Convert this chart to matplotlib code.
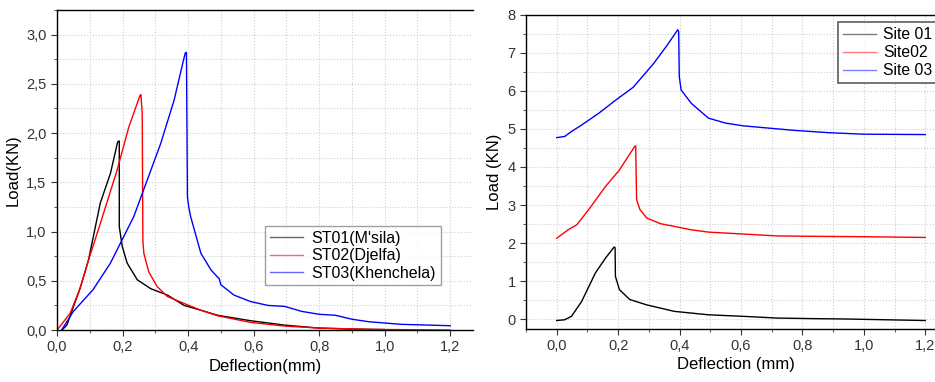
import matplotlib
matplotlib.use("Agg")
from matplotlib import pyplot as plt
from matplotlib.ticker import MultipleLocator, FuncFormatter

plt.rcParams['font.family'] = ['Liberation Sans', 'DejaVu Sans']

# left panel: load vs deflection per station
st01_x = [0.015, 0.03, 0.045, 0.07, 0.096, 0.132, 0.163, 0.185, 0.19, 0.19, 0.199, 0.214,
          0.245, 0.286, 0.337, 0.388, 0.44, 0.49, 0.59, 0.695, 0.8, 0.9, 1.0]
st01_y = [0.0, 0.05, 0.19, 0.42, 0.71, 1.29, 1.59, 1.91, 1.92, 1.05, 0.85, 0.68,
          0.51, 0.42, 0.355, 0.25, 0.2, 0.15, 0.095, 0.05, 0.02, 0.01, 0.005]

st02_x = [0.0, 0.04, 0.07, 0.096, 0.132, 0.183, 0.219, 0.253, 0.256, 0.26, 0.262, 0.265,
          0.28, 0.306, 0.337, 0.388, 0.44, 0.49, 0.59, 0.695, 0.8, 0.95, 1.1, 1.2]
st02_y = [0.0, 0.17, 0.42, 0.71, 1.08, 1.62, 2.06, 2.38, 2.39, 2.2, 0.91, 0.78,
          0.59, 0.44, 0.34, 0.27, 0.2, 0.145, 0.078, 0.04, 0.02, 0.007, 0.003, 0.0]

st03_x = [0.014, 0.05, 0.11, 0.163, 0.234, 0.275, 0.316, 0.357, 0.391, 0.395, 0.398, 0.402,
          0.408, 0.439, 0.47, 0.495, 0.5, 0.54, 0.59, 0.644, 0.695, 0.746, 0.8, 0.85,
          0.9, 0.95, 1.05, 1.2]
st03_y = [0.0, 0.19, 0.41, 0.68, 1.15, 1.52, 1.89, 2.33, 2.81, 2.82, 1.35, 1.25,
          1.15, 0.78, 0.61, 0.52, 0.46, 0.355, 0.29, 0.25, 0.24, 0.19, 0.16, 0.15,
          0.11, 0.085, 0.058, 0.044]

# right panel: shifted curves per site
site01_x = [0.0, 0.026, 0.048, 0.081, 0.126, 0.159, 0.187, 0.19, 0.191, 0.204, 0.238,
            0.293, 0.383, 0.494, 0.606, 0.717, 0.83, 0.94, 1.2]
site01_y = [-0.03, -0.01, 0.08, 0.47, 1.22, 1.61, 1.9, 1.88, 1.13, 0.78, 0.52,
            0.38, 0.21, 0.12, 0.08, 0.035, 0.02, 0.01, -0.03]

site02_x = [0.0, 0.037, 0.065, 0.104, 0.159, 0.204, 0.254, 0.257, 0.26, 0.271, 0.293,
            0.338, 0.383, 0.438, 0.494, 0.606, 0.717, 0.83, 0.996, 1.2]
site02_y = [2.13, 2.35, 2.48, 2.88, 3.49, 3.92, 4.54, 4.55, 3.14, 2.88, 2.66,
            2.51, 2.44, 2.35, 2.29, 2.24, 2.19, 2.18, 2.17, 2.15]

site03_x = [0.0, 0.026, 0.048, 0.081, 0.137, 0.193, 0.249, 0.316, 0.36, 0.394, 0.397,
            0.399, 0.405, 0.438, 0.494, 0.55, 0.606, 0.661, 0.773, 0.884, 0.996, 1.2]
site03_y = [4.77, 4.8, 4.93, 5.1, 5.41, 5.76, 6.09, 6.72, 7.2, 7.6, 7.55,
            6.37, 6.02, 5.67, 5.28, 5.15, 5.08, 5.04, 4.96, 4.9, 4.86, 4.85]

left_labels = ["ST01(M'sila)", "ST02(Djelfa)", "ST03(Khenchela)"]
right_labels = ["Site 01", "Site02", "Site 03"]
colors = ["black", "red", "blue"]


def comma(v, pos):
    return f"{v:.1f}".replace(".", ",")


def style_axes(ax):
    ax.spines['right'].set_visible(False)
    ax.tick_params(which='both', direction='out', labelsize=10.5, colors='#333333')
    ax.tick_params(which='major', length=4)
    ax.tick_params(which='minor', length=2.5)
    ax.grid(True, which='both', linestyle=':', color='#cfcfcf', linewidth=0.8)
    ax.set_axisbelow(True)
    for s in ax.spines.values():
        s.set_linewidth(1.0)


fig = plt.figure(figsize=(9.35, 3.82), dpi=100)

# left
ax1 = fig.add_axes([0.061, 0.136, 0.445, 0.838])
for xs, ys, c, lab in zip([st01_x, st02_x, st03_x], [st01_y, st02_y, st03_y], colors, left_labels):
    ax1.plot(xs, ys, color=c, lw=1.0, label=lab)
ax1.set_xlim(0, 1.27)
ax1.set_ylim(0, 3.25)
ax1.xaxis.set_major_locator(MultipleLocator(0.2))
ax1.xaxis.set_minor_locator(MultipleLocator(0.1))
ax1.yaxis.set_major_locator(MultipleLocator(0.5))
ax1.yaxis.set_minor_locator(MultipleLocator(0.25))
ax1.xaxis.set_major_formatter(FuncFormatter(comma))
ax1.yaxis.set_major_formatter(FuncFormatter(comma))
style_axes(ax1)
ax1.set_xlabel("Deflection(mm)", fontsize=12, labelpad=3)
ax1.set_ylabel("Load(KN)", fontsize=12, labelpad=4)
leg1 = ax1.legend(loc='upper left', bbox_to_anchor=(0.5, 0.325), borderaxespad=0,
                  fontsize=11.5, frameon=True, fancybox=False, edgecolor='#888888',
                  handlelength=2.1, borderpad=0.3, labelspacing=0.15, handletextpad=0.5)
leg1.get_frame().set_linewidth(1.0)
for h in leg1.get_lines():
    h.set_alpha(0.6)

# right
ax2 = fig.add_axes([0.5626, 0.139, 0.45, 0.823])
for xs, ys, c, lab in zip([site01_x, site02_x, site03_x], [site01_y, site02_y, site03_y], colors, right_labels):
    ax2.plot(xs, ys, color=c, lw=1.0, label=lab)
ax2.set_xlim(-0.1, 1.27)
ax2.set_ylim(-0.25, 8)
ax2.xaxis.set_major_locator(MultipleLocator(0.2))
ax2.xaxis.set_minor_locator(MultipleLocator(0.1))
ax2.yaxis.set_major_locator(MultipleLocator(1))
ax2.yaxis.set_minor_locator(MultipleLocator(0.5))
ax2.xaxis.set_major_formatter(FuncFormatter(comma))
style_axes(ax2)
ax2.set_xlabel("Deflection (mm)", fontsize=12, labelpad=3)
ax2.set_ylabel("Load (KN)", fontsize=12, labelpad=4)
leg2 = ax2.legend(loc='upper left', bbox_to_anchor=(0.742, 0.975), borderaxespad=0,
                  fontsize=11.3, frameon=True, fancybox=False, edgecolor='#333333',
                  handlelength=2.1, borderpad=0.3, labelspacing=0.2, handletextpad=0.45)
leg2.get_frame().set_linewidth(1.2)
for h in leg2.get_lines():
    h.set_alpha(0.5)

fig.savefig("out.png", dpi=100)
